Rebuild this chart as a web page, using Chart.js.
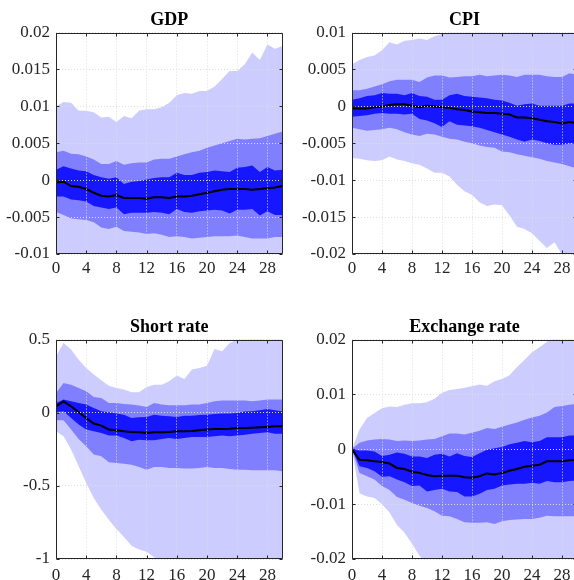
<!DOCTYPE html>
<html>
<head>
<meta charset="utf-8">
<script src="https://cdn.jsdelivr.net/npm/chart.js@4.4.1/dist/chart.umd.min.js"></script>
<style>
html, body { margin: 0; padding: 0; background: #fff; overflow: hidden; width: 574px; height: 580px; }
canvas { position: absolute; }
</style>
</head>
<body>
<canvas id="gdp" width="287" height="284" style="left:0px;top:0px"></canvas>
<canvas id="cpi" width="290" height="284" style="left:290px;top:0px"></canvas>
<canvas id="rate" width="287" height="282" style="left:0px;top:307px"></canvas>
<canvas id="fx" width="290" height="282" style="left:290px;top:307px"></canvas>
<script>
const horizons = [0,1,2,3,4,5,6,7,8,9,10,11,12,13,14,15,16,17,18,19,20,21,22,23,24,25,26,27,28,29,30];
const xTicks = [0, 4, 8, 12, 16, 20, 24, 28];

// GDP
const gdpTicks = [-0.01, -0.005, 0, 0.005, 0.01, 0.015, 0.02];
const gdpOuterHi = [0.0100,0.0106,0.0105,0.0094,0.0094,0.0092,0.0085,0.0086,0.0079,0.0087,0.0084,0.0094,0.0096,0.0096,0.0099,0.0105,0.0115,0.0118,0.0117,0.0121,0.0121,0.0127,0.0137,0.0148,0.0148,0.0157,0.0173,0.0163,0.0184,0.0178,0.0182];
const gdpMidHi = [0.0038,0.0040,0.0036,0.0035,0.0032,0.0028,0.0022,0.0022,0.0026,0.0021,0.0023,0.0024,0.0024,0.0028,0.0029,0.0029,0.0032,0.0035,0.0038,0.0040,0.0044,0.0047,0.0050,0.0053,0.0056,0.0055,0.0056,0.0057,0.0060,0.0063,0.0066];
const gdpInnerHi = [0.0014,0.0019,0.0016,0.0013,0.0012,0.0007,0.0004,0.0002,0.0004,-0.0005,-0.0002,-0.0001,0.0001,0.0003,0.0004,0.0004,0.0010,0.0007,0.0007,0.0010,0.0011,0.0013,0.0012,0.0011,0.0017,0.0018,0.0020,0.0011,0.0018,0.0013,0.0014];
const gdpMed = [-0.0003,-0.0002,-0.0008,-0.0009,-0.0012,-0.0017,-0.0021,-0.0022,-0.0020,-0.0024,-0.0024,-0.0024,-0.0025,-0.0023,-0.0023,-0.0024,-0.0022,-0.0022,-0.0021,-0.0019,-0.0017,-0.0015,-0.0013,-0.0012,-0.0012,-0.0012,-0.0013,-0.0012,-0.0011,-0.0010,-0.0008];
const gdpInnerLo = [-0.0022,-0.0022,-0.0026,-0.0027,-0.0029,-0.0035,-0.0037,-0.0039,-0.0037,-0.0046,-0.0044,-0.0044,-0.0044,-0.0043,-0.0044,-0.0046,-0.0039,-0.0043,-0.0044,-0.0042,-0.0041,-0.0040,-0.0041,-0.0045,-0.0040,-0.0040,-0.0039,-0.0048,-0.0042,-0.0047,-0.0047];
const gdpMidLo = [-0.0043,-0.0047,-0.0052,-0.0053,-0.0054,-0.0057,-0.0064,-0.0066,-0.0063,-0.0069,-0.0070,-0.0071,-0.0073,-0.0072,-0.0074,-0.0077,-0.0076,-0.0077,-0.0079,-0.0078,-0.0077,-0.0076,-0.0076,-0.0076,-0.0075,-0.0077,-0.0079,-0.0079,-0.0079,-0.0077,-0.0077];
const gdpOuterLo = [-0.0105,-0.0110,-0.0114,-0.0117,-0.0120,-0.0124,-0.0128,-0.0131,-0.0130,-0.0135,-0.0137,-0.0140,-0.0143,-0.0144,-0.0146,-0.0150,-0.0152,-0.0155,-0.0158,-0.0160,-0.0162,-0.0165,-0.0168,-0.0172,-0.0175,-0.0178,-0.0182,-0.0185,-0.0188,-0.0192,-0.0196];

// CPI
const cpiTicks = [-0.02, -0.015, -0.01, -0.005, 0, 0.005, 0.01];
const cpiOuterHi = [0.0057,0.0063,0.0067,0.0069,0.0076,0.0087,0.0084,0.0089,0.0090,0.0092,0.0090,0.0095,0.0098,0.0100,0.0102,0.0104,0.0105,0.0107,0.0108,0.0110,0.0112,0.0114,0.0116,0.0118,0.0120,0.0122,0.0124,0.0126,0.0128,0.0130,0.0132];
const cpiMidHi = [0.0022,0.0022,0.0024,0.0027,0.0030,0.0034,0.0036,0.0036,0.0036,0.0033,0.0039,0.0042,0.0042,0.0039,0.0040,0.0041,0.0041,0.0043,0.0041,0.0042,0.0043,0.0042,0.0040,0.0043,0.0043,0.0043,0.0041,0.0040,0.0040,0.0045,0.0043];
const cpiInnerHi = [0.0009,0.0011,0.0014,0.0015,0.0018,0.0017,0.0017,0.0015,0.0018,0.0014,0.0013,0.0009,0.0009,0.0015,0.0017,0.0014,0.0013,0.0012,0.0011,0.0009,0.0008,0.0005,0.0001,0.0003,0.0004,0.0001,0.0001,0.0001,0.0001,0.0004,0.0004];
const cpiMed = [-0.0003,-0.0003,-0.0003,-0.0001,0.0000,0.0002,0.0003,0.0003,0.0001,-0.0001,0.0001,0.0000,-0.0001,-0.0002,-0.0004,-0.0005,-0.0007,-0.0008,-0.0009,-0.0009,-0.0010,-0.0011,-0.0015,-0.0015,-0.0016,-0.0018,-0.0020,-0.0021,-0.0023,-0.0021,-0.0023];
const cpiInnerLo = [-0.0014,-0.0013,-0.0012,-0.0010,-0.0009,-0.0010,-0.0010,-0.0011,-0.0010,-0.0017,-0.0019,-0.0023,-0.0028,-0.0020,-0.0025,-0.0026,-0.0027,-0.0029,-0.0032,-0.0035,-0.0038,-0.0041,-0.0045,-0.0048,-0.0045,-0.0047,-0.0050,-0.0052,-0.0052,-0.0050,-0.0050];
const cpiMidLo = [-0.0029,-0.0031,-0.0033,-0.0032,-0.0031,-0.0029,-0.0031,-0.0035,-0.0038,-0.0040,-0.0037,-0.0038,-0.0041,-0.0044,-0.0045,-0.0048,-0.0050,-0.0053,-0.0055,-0.0056,-0.0061,-0.0062,-0.0065,-0.0067,-0.0069,-0.0071,-0.0074,-0.0076,-0.0078,-0.0081,-0.0084];
const cpiOuterLo = [-0.0070,-0.0071,-0.0073,-0.0074,-0.0073,-0.0068,-0.0072,-0.0074,-0.0077,-0.0079,-0.0084,-0.0090,-0.0090,-0.0095,-0.0106,-0.0115,-0.0120,-0.0130,-0.0135,-0.0133,-0.0134,-0.0148,-0.0163,-0.0166,-0.0172,-0.0182,-0.0192,-0.0184,-0.0201,-0.0206,-0.0208];

// Short rate
const rateTicks = [-1, -0.5, 0, 0.5];
const rateOuterHi = [0.386,0.477,0.432,0.363,0.306,0.261,0.222,0.185,0.169,0.158,0.140,0.140,0.176,0.192,0.192,0.215,0.254,0.231,0.295,0.306,0.322,0.436,0.420,0.477,0.500,0.510,0.520,0.530,0.540,0.550,0.560];
const rateMidHi = [0.135,0.204,0.192,0.169,0.147,0.108,0.101,0.067,0.067,0.060,0.056,0.049,0.040,0.067,0.056,0.051,0.051,0.051,0.056,0.056,0.067,0.078,0.083,0.083,0.083,0.083,0.078,0.083,0.090,0.090,0.090];
const rateInnerHi = [0.067,0.090,0.078,0.067,0.056,0.033,0.010,0.003,-0.006,-0.013,-0.036,-0.031,-0.029,-0.013,-0.020,-0.024,-0.029,-0.020,-0.020,-0.015,-0.013,-0.008,-0.006,-0.006,-0.002,0.008,0.010,0.017,0.026,0.017,0.010];
const rateMed = [0.044,0.078,0.044,0.003,-0.036,-0.074,-0.088,-0.115,-0.120,-0.127,-0.131,-0.134,-0.138,-0.134,-0.134,-0.131,-0.127,-0.127,-0.125,-0.120,-0.115,-0.111,-0.111,-0.109,-0.104,-0.104,-0.102,-0.100,-0.097,-0.093,-0.093];
const rateInnerLo = [0.003,0.010,-0.036,-0.081,-0.115,-0.127,-0.138,-0.156,-0.156,-0.172,-0.195,-0.184,-0.188,-0.188,-0.179,-0.172,-0.179,-0.172,-0.166,-0.166,-0.166,-0.161,-0.156,-0.161,-0.156,-0.150,-0.143,-0.138,-0.134,-0.143,-0.143];
const rateMidLo = [-0.052,-0.052,-0.115,-0.179,-0.229,-0.286,-0.298,-0.339,-0.343,-0.348,-0.355,-0.371,-0.389,-0.371,-0.371,-0.378,-0.378,-0.382,-0.382,-0.378,-0.371,-0.378,-0.378,-0.384,-0.389,-0.389,-0.394,-0.394,-0.394,-0.394,-0.400];
const rateOuterLo = [-0.127,-0.161,-0.252,-0.366,-0.480,-0.583,-0.663,-0.731,-0.795,-0.850,-0.909,-0.935,-0.950,-0.990,-1.005,-1.020,-1.030,-1.040,-1.050,-1.060,-1.070,-1.080,-1.090,-1.100,-1.110,-1.120,-1.130,-1.140,-1.150,-1.160,-1.170];

// Exchange rate
const fxTicks = [-0.02, -0.01, 0, 0.01, 0.02];
const fxOuterHi = [0,0.0036,0.0057,0.0066,0.0075,0.0078,0.0077,0.0081,0.0084,0.0084,0.0086,0.0092,0.0103,0.0108,0.0110,0.0112,0.0115,0.0118,0.0116,0.0124,0.0128,0.0135,0.0150,0.0163,0.0177,0.0186,0.0196,0.0203,0.0207,0.0212,0.0216];
const fxMidHi = [0.0001,0.0012,0.0016,0.0018,0.0019,0.0018,0.0015,0.0016,0.0015,0.0016,0.0018,0.0019,0.0024,0.0029,0.0029,0.0027,0.0030,0.0034,0.0039,0.0037,0.0041,0.0045,0.0049,0.0054,0.0058,0.0061,0.0067,0.0077,0.0079,0.0081,0.0083];
const fxInnerHi = [0,-0.0002,-0.0002,-0.0004,-0.0012,-0.0010,-0.0006,-0.0008,-0.0013,-0.0013,-0.0016,-0.0010,-0.0008,-0.0013,-0.0007,-0.0012,-0.0014,-0.0007,-0.0001,0.0002,0.0004,0.0009,0.0012,0.0015,0.0013,0.0015,0.0022,0.0022,0.0022,0.0025,0.0025];
const fxMed = [0,-0.0019,-0.0020,-0.0022,-0.0023,-0.0026,-0.0034,-0.0036,-0.0041,-0.0043,-0.0047,-0.0049,-0.0048,-0.0048,-0.0048,-0.0051,-0.0052,-0.0049,-0.0044,-0.0046,-0.0043,-0.0039,-0.0036,-0.0032,-0.0030,-0.0028,-0.0022,-0.0022,-0.0022,-0.0020,-0.0019];
const fxInnerLo = [0,-0.0031,-0.0034,-0.0040,-0.0050,-0.0049,-0.0055,-0.0060,-0.0067,-0.0066,-0.0077,-0.0074,-0.0072,-0.0077,-0.0078,-0.0086,-0.0086,-0.0081,-0.0074,-0.0072,-0.0066,-0.0064,-0.0063,-0.0063,-0.0061,-0.0063,-0.0058,-0.0060,-0.0060,-0.0058,-0.0057];
const fxMidLo = [0,-0.0043,-0.0049,-0.0055,-0.0067,-0.0074,-0.0087,-0.0092,-0.0098,-0.0103,-0.0107,-0.0113,-0.0121,-0.0122,-0.0127,-0.0133,-0.0134,-0.0134,-0.0133,-0.0136,-0.0131,-0.0129,-0.0128,-0.0127,-0.0127,-0.0125,-0.0121,-0.0122,-0.0122,-0.0122,-0.0122];
const fxOuterLo = [0,-0.0080,-0.0086,-0.0089,-0.0100,-0.0115,-0.0138,-0.0152,-0.0172,-0.0194,-0.0208,-0.0214,-0.0220,-0.0226,-0.0230,-0.0234,-0.0236,-0.0238,-0.0240,-0.0242,-0.0244,-0.0246,-0.0248,-0.0250,-0.0252,-0.0254,-0.0256,-0.0258,-0.0260,-0.0262,-0.0264];

const SERIF = '"Liberation Serif", "Times New Roman", serif';
const LIGHT = 'rgb(204, 204, 255)';
const MID = 'rgb(128, 128, 255)';
const DARK = 'rgb(22, 22, 255)';
const AXIS = '#262626';

// box round the plot with small inward ticks, matlab style
const framePlugin = {
    id: 'frame',
    afterDraw(chart) {
        const { ctx, chartArea: a, scales } = chart;
        const l = Math.round(a.left) + 0.5, r = Math.round(a.right) - 0.5;
        const t = Math.round(a.top) + 0.5, b = Math.round(a.bottom) - 0.5;
        ctx.save();
        ctx.strokeStyle = AXIS;
        ctx.lineWidth = 1;
        ctx.beginPath();
        ctx.rect(l, t, r - l, b - t);
        scales.x.ticks.forEach(tk => {
            const px = Math.round(scales.x.getPixelForValue(tk.value)) + 0.5;
            ctx.moveTo(px, b); ctx.lineTo(px, b - 3);
            ctx.moveTo(px, t); ctx.lineTo(px, t + 3);
        });
        scales.y.ticks.forEach(tk => {
            const py = Math.round(scales.y.getPixelForValue(tk.value)) + 0.5;
            ctx.moveTo(l, py); ctx.lineTo(l + 3, py);
            ctx.moveTo(r, py); ctx.lineTo(r - 3, py);
        });
        ctx.stroke();
        ctx.restore();
    }
};

const toPoints = (arr) => horizons.map((h, i) => ({ x: h, y: arr[i] }));

const band = (hi, lo, color, order) => [
    { data: toPoints(hi), fill: '+1', backgroundColor: color, borderWidth: 0, borderColor: 'transparent', pointRadius: 0, order: order },
    { data: toPoints(lo), fill: false, borderWidth: 0, borderColor: 'transparent', pointRadius: 0, order: order }
];

const makePanel = (id, title, yTicks, outer, mid, inner, med, yAxisW, padRight, xPad) => {
    const ctx = document.getElementById(id).getContext('2d');
    return new Chart(ctx, {
        type: 'line',
        data: {
            datasets: [
                { data: toPoints(med), borderColor: '#000', borderWidth: 2, pointRadius: 0, fill: false, tension: 0, order: 0 },
                ...band(inner[0], inner[1], DARK, 1),
                ...band(mid[0], mid[1], MID, 2),
                ...band(outer[0], outer[1], LIGHT, 3)
            ]
        },
        options: {
            responsive: false,
            animation: false,
            events: [],
            layout: { padding: { left: 0, right: padRight, top: 0, bottom: 0 } },
            plugins: {
                legend: { display: false },
                tooltip: { enabled: false },
                title: {
                    display: true,
                    text: title,
                    fullSize: false,
                    color: '#000',
                    font: { family: SERIF, size: 18, weight: 'bold' },
                    padding: { top: 10, bottom: 1 }
                }
            },
            scales: {
                x: {
                    type: 'linear',
                    min: 0,
                    max: 30,
                    afterBuildTicks: (s) => { s.ticks = xTicks.map(v => ({ value: v })); },
                    afterFit: (s) => { s.height = 30; },
                    grid: { color: 'rgb(222, 222, 222)', drawTicks: false, z: 1 },
                    border: { display: false, dash: [1, 2] },
                    ticks: { color: AXIS, font: { family: SERIF, size: 17 }, padding: xPad, maxRotation: 0, callback: (v) => String(v) }
                },
                y: {
                    type: 'linear',
                    min: Math.min(...yTicks),
                    max: Math.max(...yTicks),
                    afterBuildTicks: (s) => { s.ticks = yTicks.map(v => ({ value: v })); },
                    afterFit: (s) => { s.width = yAxisW; },
                    grid: { color: 'rgb(222, 222, 222)', drawTicks: false, z: 1 },
                    border: { display: false, dash: [1, 2] },
                    ticks: { color: AXIS, font: { family: SERIF, size: 17 }, padding: 6, callback: (v) => String(v) }
                }
            }
        },
        plugins: [framePlugin]
    });
};

makePanel('gdp', 'GDP', gdpTicks, [gdpOuterHi, gdpOuterLo], [gdpMidHi, gdpMidLo], [gdpInnerHi, gdpInnerLo], gdpMed, 56, 4.5, 4);
makePanel('cpi', 'CPI', cpiTicks, [cpiOuterHi, cpiOuterLo], [cpiMidHi, cpiMidLo], [cpiInnerHi, cpiInnerLo], cpiMed, 62, 3, 4);
makePanel('rate', 'Short rate', rateTicks, [rateOuterHi, rateOuterLo], [rateMidHi, rateMidLo], [rateInnerHi, rateInnerLo], rateMed, 56, 4.5, 6);
makePanel('fx', 'Exchange rate', fxTicks, [fxOuterHi, fxOuterLo], [fxMidHi, fxMidLo], [fxInnerHi, fxInnerLo], fxMed, 62, 3, 6);
</script>
</body>
</html>
